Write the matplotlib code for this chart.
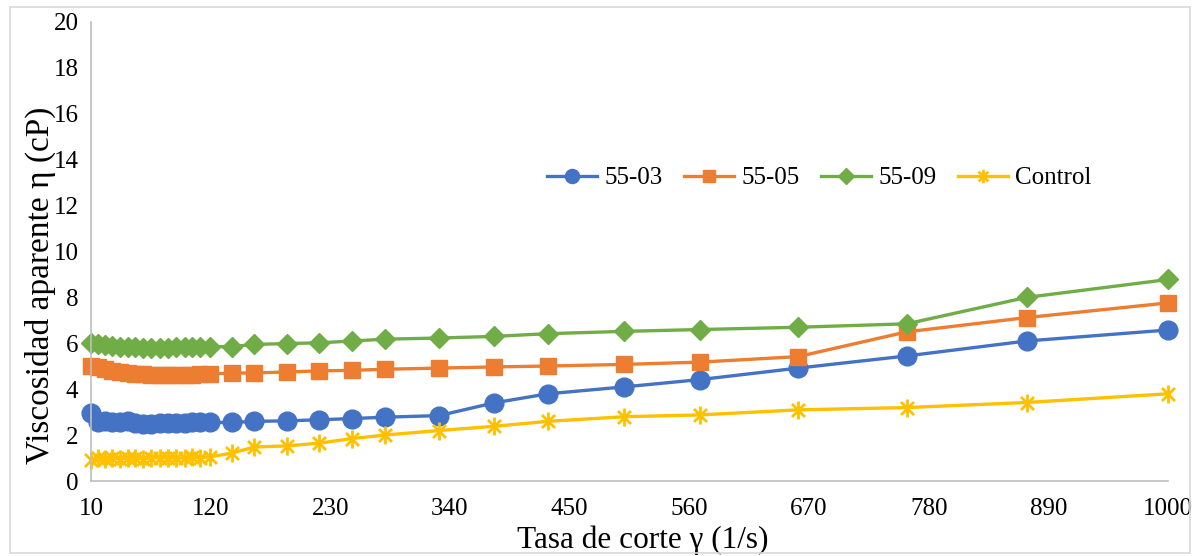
import numpy as np
import matplotlib
matplotlib.use("Agg")
import matplotlib.pyplot as plt
from matplotlib.path import Path
from matplotlib.patches import Rectangle

# shear rate (1/s)
shear_rate = [10, 16, 23, 29, 37, 44, 50, 58, 65, 73, 81, 88, 96, 103, 110, 119,
              140, 160, 190, 220, 250, 280, 330, 380, 430, 500, 570, 660, 760, 870, 1000]

# apparent viscosity (cP)
visc_55_03 = [2.95, 2.55, 2.6, 2.55, 2.55, 2.6, 2.52, 2.5, 2.5, 2.52, 2.52, 2.53, 2.53, 2.55, 2.55, 2.55,
              2.55, 2.6, 2.62, 2.67, 2.72, 2.78, 2.85, 3.4, 3.8, 4.1, 4.42, 4.92, 5.45, 6.1, 6.58]
visc_55_05 = [5.0, 4.98, 4.9, 4.8, 4.75, 4.7, 4.68, 4.65, 4.63, 4.62, 4.62, 4.62, 4.62, 4.64, 4.66, 4.67,
              4.7, 4.71, 4.75, 4.8, 4.82, 4.87, 4.92, 4.97, 5.01, 5.08, 5.18, 5.42, 6.5, 7.12, 7.76]
visc_55_09 = [6.0, 5.95, 5.92, 5.88, 5.85, 5.83, 5.82, 5.8, 5.8, 5.8, 5.8, 5.82, 5.82, 5.83, 5.84, 5.85,
              5.86, 5.95, 5.99, 6.02, 6.1, 6.18, 6.23, 6.3, 6.42, 6.52, 6.6, 6.7, 6.85, 8.0, 8.78]
visc_control = [0.9, 1.0, 0.95, 1.0, 0.98, 1.0, 1.0, 0.98, 1.0, 1.02, 1.0, 1.0, 1.0, 1.05, 1.02, 1.05,
                1.22, 1.48, 1.53, 1.65, 1.85, 2.0, 2.2, 2.38, 2.6, 2.8, 2.88, 3.1, 3.2, 3.42, 3.8]

x_ticks = np.arange(10, 1001, 110)
y_ticks = np.arange(0, 21, 2)

plt.rcParams['font.family'] = ['Liberation Serif', 'DejaVu Serif']

# excel-like asterisk marker (vertical bar + X)
star = Path([(0, -1), (0, 1), (-0.72, -0.72), (0.72, 0.72), (-0.72, 0.72), (0.72, -0.72)],
            [Path.MOVETO, Path.LINETO, Path.MOVETO, Path.LINETO, Path.MOVETO, Path.LINETO])

fig = plt.figure(figsize=(11.94, 5.56), dpi=100)
ax = fig.add_axes([91 / 1194, 1 - 481 / 556, 1077 / 1194, 459 / 556])

ax.plot(shear_rate, visc_55_03, color='#4472C4', lw=2.4, marker='o', ms=13.5, label='55-03', clip_on=False)
ax.plot(shear_rate, visc_55_05, color='#ED7D31', lw=2.4, marker='s', ms=12, label='55-05', clip_on=False)
ax.plot(shear_rate, visc_55_09, color='#70AD47', lw=2.4, marker='D', ms=10.5, label='55-09', clip_on=False)
ax.plot(shear_rate, visc_control, color='#FFC000', lw=2.4, marker=star, ms=13, mew=2,
        label='Control', clip_on=False)

ax.set_xlim(10, 1000)
ax.set_ylim(0, 20)
ax.set_xticks(x_ticks)
ax.set_yticks(y_ticks)
ax.tick_params(length=0, labelsize=18, colors='black')
ax.tick_params(axis='x', pad=12)
ax.tick_params(axis='y', pad=9)

for s in ['top', 'right']:
    ax.spines[s].set_visible(False)
for s in ['left', 'bottom']:
    ax.spines[s].set_color('#BFBFBF')
    ax.spines[s].set_linewidth(1.2)

ax.set_xlabel('Tasa de corte γ (1/s)', fontsize=22.5, va='center')
ax.set_ylabel('Viscosidad aparente η (cP)', fontsize=24, va='center')
ax.xaxis.set_label_coords(0.512, -(540 - 481) / 459)
ax.yaxis.set_label_coords(-(91 - 40) / 1077, 0.427)

ax.legend(loc='center', bbox_to_anchor=(0.676, 0.66), ncol=4, frameon=False, fontsize=18,
          handlelength=2.0, columnspacing=0.85, handletextpad=0.3, markerscale=0.75)

fig.patches.append(Rectangle((10 / 1194, 3 / 556), 1180 / 1194, 546 / 556, transform=fig.transFigure,
                             fill=False, edgecolor='#D9D9D9', lw=1.2))

fig.savefig('out.png', dpi=100)
